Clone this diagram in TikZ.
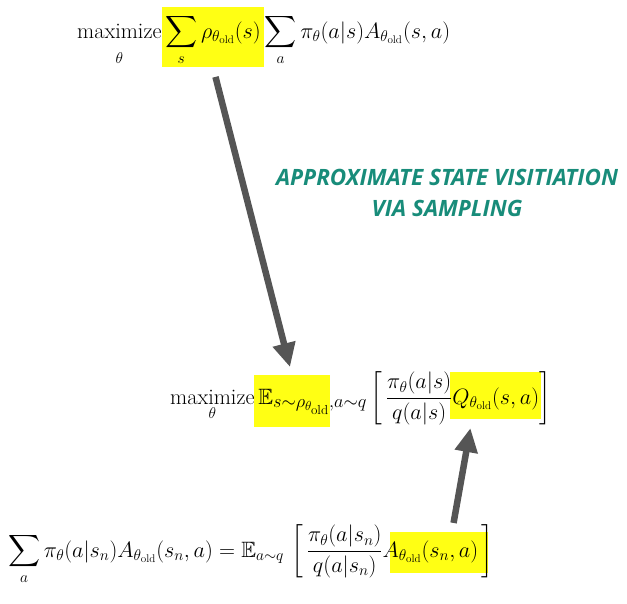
\RequirePackage{fix-cm}
\documentclass[tikz,border=0pt]{standalone}
\usepackage{amsmath,amssymb}
\usepackage{fontspec}
\newfontfamily\notefont{Open Sans}
\usetikzlibrary{arrows.meta}
\definecolor{hlyellow}{RGB}{255,255,20}
\definecolor{notegreen}{RGB}{24,140,122}
\definecolor{arrowgray}{RGB}{85,85,85}
\begin{document}
\begin{tikzpicture}[x=1pt,y=1pt,yscale=-1,
  hl/.style={fill=hlyellow,draw=none,inner sep=0pt},
  eq/.style={anchor=base west,inner sep=0pt,font=\fontsize{22.2}{26}\selectfont},
  bigarrow/.style={draw=arrowgray,line width=6.5pt,-{Triangle[width=22pt,length=24pt]}}]
\useasboundingbox (0,0) rectangle (627,603);

%Shape: Rectangle [id:hlSum]
\node [hl,minimum width=102,minimum height=60] (hlSum) at (213,37) {};
%Shape: Rectangle [id:hlE]
\node [hl,minimum width=76,minimum height=52] (hlE) at (292,401) {};
%Shape: Rectangle [id:hlQ]
\node [hl,minimum width=91,minimum height=47] (hlQ) at (495.5,395.5) {};
%Shape: Rectangle [id:hlA]
\node [hl,minimum width=98,minimum height=41] (hlA) at (439,552.5) {};

% Text Node
\node [eq] (objOld) at (77,38) {$\displaystyle \operatorname*{maximize}_{\rule{0pt}{21.7pt}\theta} \sum_{s}\rho_{\theta_{\text{old}}}(s) \sum_{a} \pi_\theta(a|s) A_{\theta_{\text{old}}}(s,a)$};
% Text Node
\node [eq] (objNew) at (170,404) {$\displaystyle \operatorname*{maximize}_{\theta} \mathbb{E}_{\mbox{\fontsize{26.2}{28}\selectfont$\scriptstyle s\sim\rho_{\theta_{\text{old}}},a\sim q$}}\left[\,\frac{\pi_\theta(a|s)}{q(a|s)} Q_{\theta_{\text{old}}}(s,a)\right]$};
% Text Node
\node [eq] (isEq) at (8,557) {$\displaystyle \sum_a \pi_\theta(a|s_n) A_{\theta_{\text{old}}}(s_n,a) = \mathbb{E}_{a\sim q}\,\left[\,\frac{\pi_\theta(a|s_n)}{q(a|s_n)} A_{\theta_{\text{old}}}(s_n,a)\,\right]$};
% Text Node
\node [align=center,text=notegreen,font=\notefont\bfseries\itshape\fontsize{22.5}{31.5}\selectfont] (note) at (447,193) {APPROXIMATE STATE VISITIATION\\VIA SAMPLING};

%Straight Lines [id:arrSample]
\draw [bigarrow,shorten <=10pt,shorten >=8pt] (hlSum.south) -- (hlE.north);
%Straight Lines [id:arrQ]
\draw [bigarrow,shorten <=9pt,shorten >=9pt] ([xshift=13pt]hlA.north) -- ([xshift=-23.5pt]hlQ.south);

\end{tikzpicture}
\end{document}
